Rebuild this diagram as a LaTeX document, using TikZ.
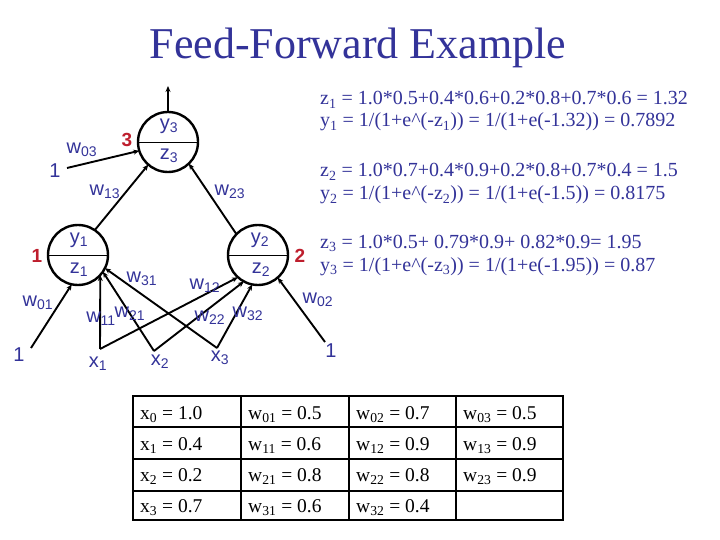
\documentclass[tikz,border=0pt]{standalone}
\usepackage{fontspec}
\setmainfont{Liberation Serif}
\newfontfamily\arialf{Liberation Sans}
\usetikzlibrary{arrows.meta}
\definecolor{tblue}{RGB}{51,51,153}
\definecolor{tred}{RGB}{190,30,45}
\newcommand\sbs[1]{\textsubscript{#1}}
\begin{document}
\begin{tikzpicture}[x=1pt,y=-1pt,
  neuron/.style={circle, draw, line width=2.4pt, minimum size=60pt, inner sep=0pt, outer sep=0pt},
  lbl/.style={font=\arialf\fontsize{20}{20}\selectfont, text=tblue, inner sep=0pt},
  one/.style={font=\arialf\fontsize{20}{20}\selectfont, text=tblue, inner sep=0pt},
  redlbl/.style={font=\arialf\bfseries\fontsize{19}{19}\selectfont, text=tred, inner sep=0pt},
  eq/.style={font=\fontsize{20}{20}\selectfont, text=tblue, anchor=base west, inner sep=0pt},
  cell/.style={font=\fontsize{19.5}{19.5}\selectfont, text=black, anchor=base west, inner sep=0pt},
  conn/.style={line width=1.9pt, -{Stealth[length=6pt,width=5pt]}}]
\useasboundingbox (0,0) rectangle (720,540);
\fill[white] (0,0) rectangle (720,540);

% title
\node[font=\fontsize{44}{44}\selectfont, text=tblue, inner sep=0pt] (title) at (358,48) {Feed-Forward Example};

% neurons
\node[neuron] (n3) at (168,142) {};
\node[neuron] (n1) at (78,255) {};
\node[neuron] (n2) at (258,255) {};
\draw[line width=0.9pt] (n3.west) -- (n3.east);
\draw[line width=0.9pt] (n1.west) -- (n1.east);
\draw[line width=0.9pt] (n2.west) -- (n2.east);

\node[lbl] (y3) at (169,126) {y\sbs{3}};
\node[lbl] (z3) at (169,156) {z\sbs{3}};
\node[lbl] (y1) at (79,240) {y\sbs{1}};
\node[lbl] (z1) at (79,270) {z\sbs{1}};
\node[lbl] (y2) at (260,240) {y\sbs{2}};
\node[lbl] (z2) at (261,270) {z\sbs{2}};

\node[redlbl] (r3) at (127,140) {3};
\node[redlbl] (r1) at (37,256) {1};
\node[redlbl] (r2) at (300,256) {2};

% inputs
\coordinate (b3) at (67,168);
\coordinate (b1) at (31,348);
\coordinate (b2) at (325,342);
\coordinate (x1) at (100,349);
\coordinate (x2) at (154,351);
\coordinate (x3) at (217,348);
\coordinate (out) at (168,86);

\node[one] (o3) at (55,171) {1};
\node[one] (o1) at (19,355) {1};
\node[one] (o2) at (331,351) {1};
\node[lbl] (lx1) at (98,364) {x\sbs{1}};
\node[lbl] (lx2) at (160,362) {x\sbs{2}};
\node[lbl] (lx3) at (220,358) {x\sbs{3}};

% connectors
\draw[conn] (n3.north) -- (out);
\draw[conn] (b3) -- (n3.-163);
\draw[conn] (n1.56) -- (n3.-131);
\draw[conn] (n2.136) -- (n3.-46);
\draw[conn] (b1) -- (n1.-102);
\draw[conn] (x1) -- (n1.-42);
\draw[conn] (x2) -- (n1.-34);
\draw[conn] (x3) -- (n1.-26);
\draw[conn] (x1) -- (n2.-132);
\draw[conn] (x2) -- (n2.-118);
\draw[conn] (x3) -- (n2.-101);
\draw[conn] (b2) -- (n2.-49);

% weight labels
\node[lbl] (w03) at (82,150) {w\sbs{03}};
\node[lbl] (w13) at (105,192) {w\sbs{13}};
\node[lbl] (w23) at (230,192) {w\sbs{23}};
\node[lbl] (w01) at (38,303) {w\sbs{01}};
\node[lbl] (w11) at (101,319) {w\sbs{11}};
\node[lbl] (w21) at (130,314) {w\sbs{21}};
\node[lbl] (w31) at (142,279) {w\sbs{31}};
\node[lbl] (w12) at (205,286) {w\sbs{12}};
\node[lbl] (w22) at (210,318) {w\sbs{22}};
\node[lbl] (w32) at (248,314) {w\sbs{32}};
\node[lbl] (w02) at (318,300) {w\sbs{02}};

% equations
\node[eq] (e1) at (320,105) {z\sbs{1} = 1.0*0.5+0.4*0.6+0.2*0.8+0.7*0.6 = 1.32};
\node[eq] (e2) at (320,127) {y\sbs{1} = 1/(1+e\^{}(-z\sbs{1})) = 1/(1+e(-1.32)) = 0.7892};
\node[eq] (e3) at (320,177) {z\sbs{2} = 1.0*0.7+0.4*0.9+0.2*0.8+0.7*0.4 = 1.5};
\node[eq] (e4) at (320,200) {y\sbs{2} = 1/(1+e\^{}(-z\sbs{2})) = 1/(1+e(-1.5)) = 0.8175};
\node[eq] (e5) at (320,248) {z\sbs{3} = 1.0*0.5+ 0.79*0.9+ 0.82*0.9= 1.95};
\node[eq] (e6) at (320,271) {y\sbs{3} = 1/(1+e\^{}(-z\sbs{3})) = 1/(1+e(-1.95)) = 0.87};

% table
\draw[line width=1.5pt] (241,396) -- (241,520) (349,396) -- (349,520) (456,396) -- (456,520)
  (133,427) -- (563,427) (133,459) -- (563,459) (133,491) -- (563,491);
\draw[line width=2.6pt] (133,396) rectangle (563,520);

\node[cell] (c11) at (140,419) {x\sbs{0} = 1.0};
\node[cell] (c12) at (248,419) {w\sbs{01} = 0.5};
\node[cell] (c13) at (356,419) {w\sbs{02} = 0.7};
\node[cell] (c14) at (463,419) {w\sbs{03} = 0.5};
\node[cell] (c21) at (140,450) {x\sbs{1} = 0.4};
\node[cell] (c22) at (248,450) {w\sbs{11} = 0.6};
\node[cell] (c23) at (356,450) {w\sbs{12} = 0.9};
\node[cell] (c24) at (463,450) {w\sbs{13} = 0.9};
\node[cell] (c31) at (140,481) {x\sbs{2} = 0.2};
\node[cell] (c32) at (248,481) {w\sbs{21} = 0.8};
\node[cell] (c33) at (356,481) {w\sbs{22} = 0.8};
\node[cell] (c34) at (463,481) {w\sbs{23} = 0.9};
\node[cell] (c41) at (140,512) {x\sbs{3} = 0.7};
\node[cell] (c42) at (248,512) {w\sbs{31} = 0.6};
\node[cell] (c43) at (356,512) {w\sbs{32} = 0.4};
\end{tikzpicture}
\end{document}
